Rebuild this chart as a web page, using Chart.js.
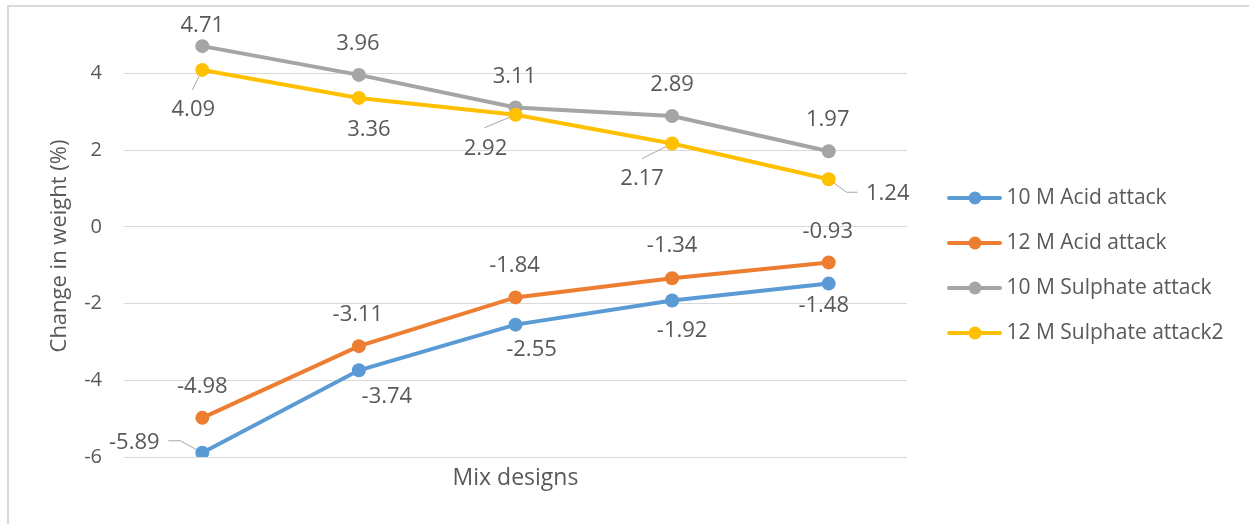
<!DOCTYPE html>
<html>
<head>
<meta charset="utf-8">
<title>Change in weight</title>
<script src="https://cdn.jsdelivr.net/npm/chart.js@4.4.1/dist/chart.umd.min.js"></script>
<style>
  html, body { margin: 0; padding: 0; background: #ffffff; }
  #wrap { width: 1249px; height: 524px; }
  canvas { display: block; }
</style>
</head>
<body>
<div id="wrap"><canvas id="chart" width="1249" height="524"></canvas></div>
<script>
// ---- data ----
const mixDesigns = ['Mix 1', 'Mix 2', 'Mix 3', 'Mix 4', 'Mix 5'];
const seriesNames = ['10 M Acid attack', '12 M Acid attack', '10 M Sulphate attack', '12 M Sulphate attack2'];
const acid10M = [-5.89, -3.74, -2.55, -1.92, -1.48];
const acid12M = [-4.98, -3.11, -1.84, -1.34, -0.93];
const sulphate10M = [4.71, 3.96, 3.11, 2.89, 1.97];
const sulphate12M = [4.09, 3.36, 2.92, 2.17, 1.24];
const yTickValues = [-6, -4, -2, 0, 2, 4];

// ---- styling ----
const FONT = '"Open Sans", "Noto Sans", sans-serif';
const TEXT = '#595959';
const GRID = '#d9d9d9';
const colors = ['#5b9bd5', '#ed7d31', '#a5a5a5', '#ffc000'];

// label placement (pixel offsets from each point) and leader lines
const labelOffsets = [
  [[-68, -10], [28, 26], [16, 25], [10, 30], [-5, 22]],
  [[0, -31], [-1, -31], [-1, -32], [0, -32], [-1, -31]],
  [[0, -20], [-1, -31], [-1, -31], [0, -31], [-1, -32]],
  [[-9, 40], [10, 32], [-30, 34], [-30, 35], [59, 14]]
];
const leaders = [
  [[[-34, -12], [-22, -12]], null, null, null, null],
  [null, null, null, null, null],
  [null, null, null, null, null],
  [[[-10, 20]], null, [[-31, 13]], [[-30, 15]], [[29, 13], [18, 13]]]
];

// legend icon: short line with a round marker
function legendIcon(color) {
  const c = document.createElement('canvas');
  c.width = 77; c.height = 16;
  const g = c.getContext('2d');
  g.strokeStyle = color; g.lineWidth = 4; g.lineCap = 'round';
  g.beginPath(); g.moveTo(24, 8); g.lineTo(75, 8); g.stroke();
  g.fillStyle = color;
  g.beginPath(); g.arc(50, 8, 6.5, 0, Math.PI * 2); g.fill();
  return c;
}
const icons = colors.map(legendIcon);

const LEGEND_FONT = 21, LEGEND_PAD = 24, LEGEND_BOX = 65;
const PLOT_RIGHT = 907, CANVAS_W = 1249;

// frame around the chart
const framePlugin = {
  id: 'frame',
  beforeDraw(chart) {
    const ctx = chart.ctx;
    ctx.save();
    ctx.strokeStyle = GRID;
    ctx.lineWidth = 2;
    ctx.beginPath();
    ctx.moveTo(8, 524); ctx.lineTo(8, 6); ctx.lineTo(CANVAS_W, 6);
    ctx.stroke();
    ctx.restore();
  }
};

// the legend column takes a fixed width so the plot ends at PLOT_RIGHT
const legendColumn = {
  id: 'legendColumn',
  beforeLayout(chart) {
    const lg = chart.legend;
    if (!lg || lg._fixedWidth) return;
    const fit = lg.fit.bind(lg);
    lg.fit = function () {
      fit();
      this.width = CANVAS_W - PLOT_RIGHT;
    };
    lg._fixedWidth = true;
  }
};

// leader lines under the markers, value labels on top
const valueLabels = {
  id: 'valueLabels',
  beforeDatasetsDraw(chart) {
    const ctx = chart.ctx;
    ctx.save();
    ctx.strokeStyle = '#a6a6a6';
    ctx.lineWidth = 1;
    chart.data.datasets.forEach((ds, di) => {
      const meta = chart.getDatasetMeta(di);
      meta.data.forEach((pt, i) => {
        const path = leaders[di][i];
        if (!path) return;
        ctx.beginPath();
        ctx.moveTo(pt.x + path[0][0], pt.y + path[0][1]);
        for (let k = 1; k < path.length; k++) ctx.lineTo(pt.x + path[k][0], pt.y + path[k][1]);
        ctx.lineTo(pt.x, pt.y);
        ctx.stroke();
      });
    });
    ctx.restore();
  },
  afterDatasetsDraw(chart) {
    const ctx = chart.ctx;
    ctx.save();
    ctx.font = '22px ' + FONT;
    ctx.fillStyle = TEXT;
    ctx.textAlign = 'center';
    ctx.textBaseline = 'middle';
    chart.data.datasets.forEach((ds, di) => {
      const meta = chart.getDatasetMeta(di);
      meta.data.forEach((pt, i) => {
        const off = labelOffsets[di][i];
        ctx.fillText(ds.data[i].toFixed(2), pt.x + off[0], pt.y + off[1]);
      });
    });
    ctx.restore();
  }
};

function lineSeries(label, data, color, order) {
  return {
    label, data, order,
    borderColor: color, backgroundColor: color,
    borderWidth: 4,
    pointRadius: 7, pointHoverRadius: 7,
    pointBackgroundColor: color, pointBorderColor: color, pointBorderWidth: 0,
    tension: 0, fill: false
  };
}

new Chart(document.getElementById('chart'), {
  type: 'line',
  data: {
    labels: mixDesigns,
    datasets: [
      lineSeries(seriesNames[0], acid10M, colors[0], 4),
      lineSeries(seriesNames[1], acid12M, colors[1], 3),
      lineSeries(seriesNames[2], sulphate10M, colors[2], 2),
      lineSeries(seriesNames[3], sulphate12M, colors[3], 1)
    ]
  },
  options: {
    responsive: false,
    animation: false,
    devicePixelRatio: 1,
    layout: { padding: { top: 35, left: 0, right: 0, bottom: 28 } },
    plugins: {
      tooltip: { enabled: false },
      legend: {
        position: 'right',
        labels: {
          usePointStyle: true,
          pointStyleWidth: LEGEND_BOX,
          padding: LEGEND_PAD,
          color: TEXT,
          font: { family: FONT, size: LEGEND_FONT },
          sort: (a, b) => a.datasetIndex - b.datasetIndex,
          generateLabels(chart) {
            const items = Chart.defaults.plugins.legend.labels.generateLabels(chart);
            items.forEach(it => { it.pointStyle = icons[it.datasetIndex]; });
            return items;
          }
        }
      }
    },
    scales: {
      x: {
        offset: true,
        grid: { display: false },
        border: { display: false },
        ticks: { display: false },
        title: {
          display: true, text: 'Mix designs', color: TEXT,
          font: { family: FONT, size: 23 },
          padding: { top: 0, bottom: 4 }
        },
        afterFit(scale) { scale.height = 39; }
      },
      y: {
        min: -6, max: 5,
        afterBuildTicks(scale) { scale.ticks = yTickValues.map(v => ({ value: v })); },
        grid: { color: GRID, lineWidth: 1, drawTicks: false },
        border: { display: false },
        ticks: {
          color: TEXT, padding: 22,
          font: { family: FONT, size: 20 }
        },
        title: {
          display: true, text: 'Change in weight (%)', color: TEXT,
          font: { family: FONT, size: 22 },
          padding: { top: 47, bottom: 0 }
        },
        afterFit(scale) { scale.width = 124; }
      }
    }
  },
  plugins: [framePlugin, legendColumn, valueLabels]
});
</script>
</body>
</html>
